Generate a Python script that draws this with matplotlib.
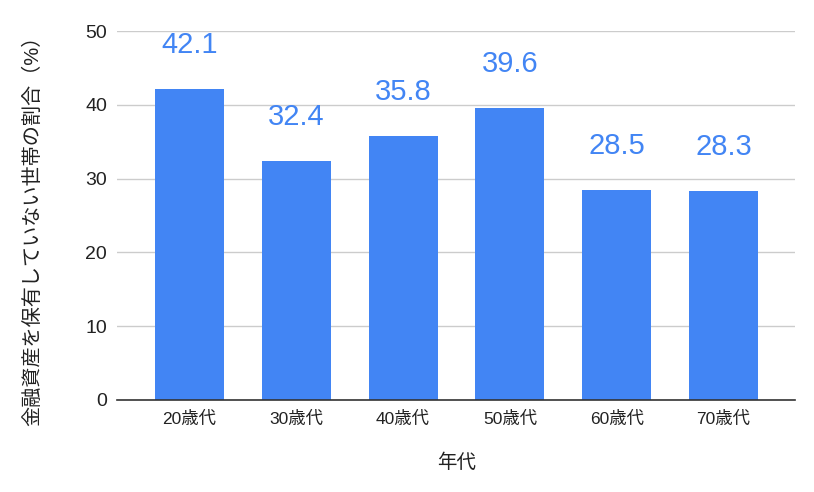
import matplotlib.pyplot as plt
import numpy as np

# Data
categories = ["20歳代", "30歳代", "40歳代", "50歳代", "60歳代", "70歳代"]
values = [42.1, 32.4, 35.8, 39.6, 28.5, 28.3]
y_ticks = [0, 10, 20, 30, 40, 50]

plt.rcParams['font.family'] = ['Liberation Sans', 'Noto Sans CJK JP', 'DejaVu Sans']

bar_color = "#4285F4"

fig = plt.figure(figsize=(8.14, 4.92), dpi=100)
ax = fig.add_axes([117.5 / 814, 1 - 400 / 492, (795.5 - 117.5) / 814, (400 - 31) / 492])

x = np.arange(len(categories))
ax.bar(x, values, width=0.646, color=bar_color, zorder=3)

# Value labels above bars
for xi, v in zip(x, values):
    ax.annotate(f"{v}", (xi, v), xytext=(0, 26), textcoords="offset points",
                ha="center", va="baseline", fontsize=21, color=bar_color)

ax.set_xlim(-0.674, len(categories) - 1 + 0.674)
ax.set_ylim(0, 50)
ax.set_yticks(y_ticks)
ax.set_xticks(x)
ax.set_xticklabels(categories, fontsize=12.5, color="#222222")
ax.tick_params(axis="y", labelsize=14, colors="#222222", length=0, pad=7.5)
ax.tick_params(axis="x", length=0, pad=8)

# Gridlines and axis styling
ax.grid(axis="y", color="#cccccc", linewidth=1, zorder=0)
for side in ["top", "right", "left"]:
    ax.spines[side].set_visible(False)
ax.spines["bottom"].set_color("#333333")
ax.spines["bottom"].set_linewidth(1.2)
ax.spines["bottom"].set_zorder(4)

ax.set_xlabel("年代", fontsize=14, color="#222222")
ax.xaxis.label.set_verticalalignment("center")
ax.xaxis.set_label_coords(0.5007, -0.1707)
ax.set_ylabel("金融資産を保有していない世帯の割合（%）", fontsize=14.5, color="#222222")
ax.yaxis.label.set_verticalalignment("center")
ax.yaxis.set_label_coords(-0.125, 0.472)

plt.savefig("out.png", dpi=100)
plt.close()
